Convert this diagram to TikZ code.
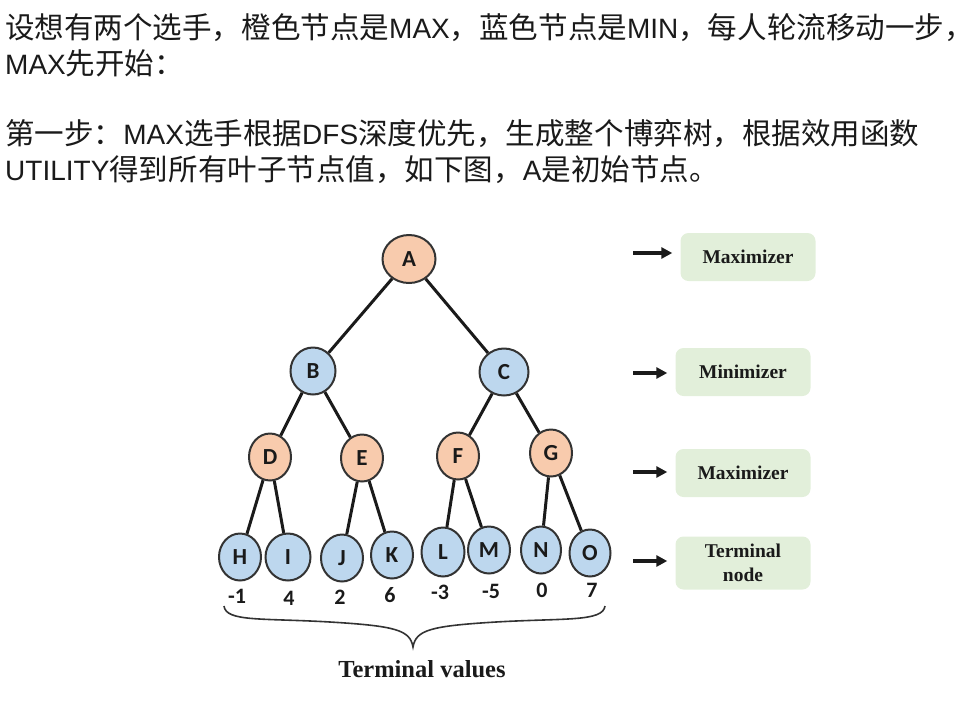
\documentclass[tikz,border=0pt]{standalone}
\usepackage{fontspec}
\setmainfont{Liberation Sans}
\newfontfamily\cjk[Scale=1.055]{Noto Sans CJK SC}
\newfontfamily\calib{Carlito}
\newfontfamily\serifbd{Liberation Serif}
\newcommand{\zh}[1]{{\cjk #1}}
\usetikzlibrary{arrows.meta, shapes.geometric}
\definecolor{maxorange}{HTML}{F8CBAD}
\definecolor{minblue}{HTML}{BDD7EE}
\definecolor{rimgray}{HTML}{333333}
\definecolor{boxgreen}{HTML}{E2EFDA}
\definecolor{inkblack}{HTML}{1A1A1A}

\begin{document}
\begin{tikzpicture}[
    x=1pt, y=-1pt,
    every node/.style={inner sep=0pt, text=inkblack},
    maxnode/.style={ellipse, draw=rimgray, fill=maxorange, line width=2pt,
      minimum width=42pt, minimum height=47pt,
      font=\calib\bfseries\fontsize{23pt}{23pt}\selectfont},
    minnode/.style={maxnode, fill=minblue},
    treeedge/.style={line width=3pt, inkblack},
    valtext/.style={font=\calib\bfseries\fontsize{22pt}{22pt}\selectfont},
    levelbox/.style={rounded corners=8pt, fill=boxgreen, align=center,
      minimum width=135pt, minimum height=48pt,
      font=\serifbd\bfseries\fontsize{19.5pt}{24pt}\selectfont},
    levelarrow/.style={-{Triangle[length=11pt, width=11pt]}, line width=3.2pt,
      inkblack, shorten >=8pt},
    linetext/.style={anchor=base west, font=\fontsize{28pt}{28pt}\selectfont},
  ]

  % Canvas
  \useasboundingbox (0,0) rectangle (979,702);

  % === Intro text ===
  \node[linetext] (line1) at (5,38)
    {\zh{设想有两个选手，橙色节点是}MAX\zh{，蓝色节点是}MIN\zh{，每人轮流移动一步，}};
  \node[linetext] (line2) at (5,74) {MAX\zh{先开始：}};
  \node[linetext] (line3) at (5,144)
    {\zh{第一步：}MAX\zh{选手根据}DFS\zh{深度优先，生成整个博弈树，根据效用函数}};
  \node[linetext] (line4) at (5,180)
    {UTILITY\zh{得到所有叶子节点值，如下图，}A\zh{是初始节点。}};

  % === Game tree ===
  % root (MAX)
  \node[maxnode, minimum width=53pt, minimum height=48pt] (A) at (409,259) {A};
  % MIN level
  \node[minnode, minimum width=45pt] (B) at (313,371) {B};
  \node[minnode, minimum width=49pt] (C) at (504,372) {C};
  % MAX level
  \node[maxnode] (D) at (270,457) {D};
  \node[maxnode] (E) at (362,458) {E};
  \node[maxnode] (F) at (458,456) {F};
  \node[maxnode] (G) at (551,453) {G};
  % terminal nodes
  \node[minnode] (H) at (240,557) {H};
  \node[minnode, minimum width=45pt] (I) at (288,557) {I};
  \node[minnode] (J) at (342,558) {J};
  \node[minnode] (K) at (392,555) {K};
  \node[minnode, minimum width=43pt, minimum height=49pt] (L) at (443,552) {L};
  \node[minnode] (M) at (489,550) {M};
  \node[minnode, minimum width=40pt] (N) at (541,550) {N};
  \node[minnode, minimum width=41pt] (O) at (590,553) {O};

  % edges
  \foreach \p/\c in {A/B, A/C, B/D, B/E, C/F, C/G,
                     D/H, D/I, E/J, E/K, F/L, F/M, G/N, G/O}
    \draw[treeedge] (\p) -- (\c);

  % === Terminal values ===
  \node[valtext] (vH) at (237,596) {-1};
  \node[valtext] (vI) at (289,598) {4};
  \node[valtext] (vJ) at (340,597) {2};
  \node[valtext] (vK) at (390,595) {6};
  \node[valtext] (vL) at (440,592) {-3};
  \node[valtext] (vM) at (491,591) {-5};
  \node[valtext] (vN) at (542,590) {0};
  \node[valtext] (vO) at (592,590) {7};

  % brace under the values
  \draw[rimgray, line width=1.6pt]
    (224,606) .. controls (226,622) and (262,618) .. (330,622)
    .. controls (396,626) and (410,630) .. (413,647)
    .. controls (416,630) and (430,626) .. (496,622)
    .. controls (564,618) and (603,622) .. (605,606);
  \node[font=\serifbd\bfseries\fontsize{24.5pt}{24.5pt}\selectfont] (tval)
    at (422,669) {Terminal values};

  % === Level legend ===
  \node[levelbox] (box1) at (748,257) {Maximizer};
  \node[levelbox] (box2) at (743,372) {Minimizer};
  \node[levelbox] (box3) at (743,473) {Maximizer};
  \node[levelbox, minimum height=53pt] (box4) at (743,563) {Terminal\\node};

  \coordinate (t1) at (633,253);
  \coordinate (t2) at (633,373);
  \coordinate (t3) at (633,472);
  \coordinate (t4) at (633,561);
  \draw[levelarrow] (t1) -- (t1 -| box1.west);
  \draw[levelarrow] (t2) -- (t2 -| box2.west);
  \draw[levelarrow] (t3) -- (t3 -| box3.west);
  \draw[levelarrow] (t4) -- (t4 -| box4.west);

\end{tikzpicture}
\end{document}
